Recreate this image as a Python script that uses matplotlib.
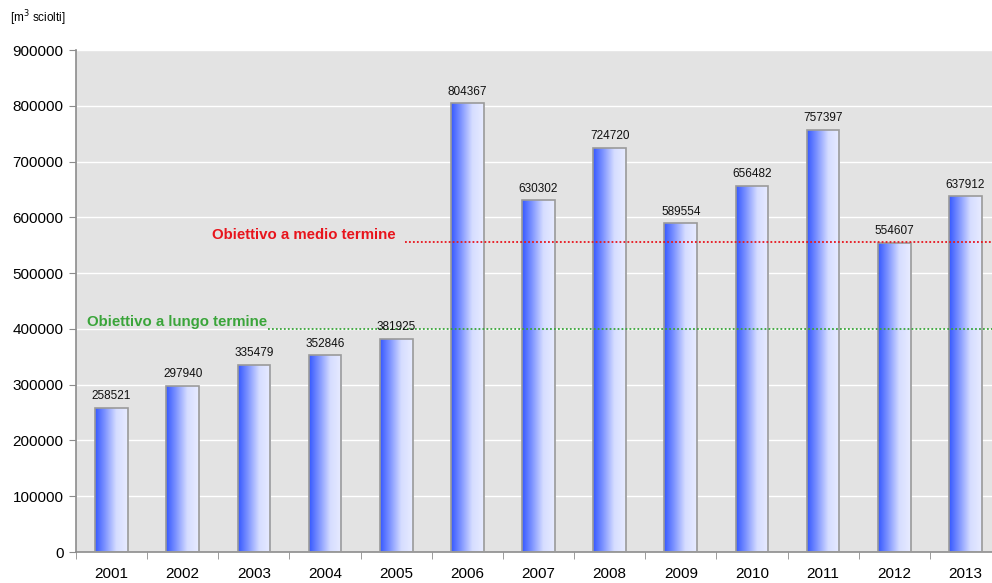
import matplotlib.pyplot as plt
import numpy as np

YEARS = ["2001", "2002", "2003", "2004", "2005", "2006", "2007",
         "2008", "2009", "2010", "2011", "2012", "2013"]
VOLUMES = [258521, 297940, 335479, 352846, 381925, 804367, 630302,
           724720, 589554, 656482, 757397, 554607, 637912]
TARGET_MEDIUM = 555000
TARGET_LONG = 400000
Y_TICKS = list(range(0, 900001, 100000))

plt.rcParams["font.family"] = ["Liberation Sans", "DejaVu Sans"]

fig = plt.figure(figsize=(9.92, 5.83), dpi=100)
# the category axis runs a little past the right edge, as in the original
ax = fig.add_axes([76 / 992, 31 / 583, 925 / 992, 502 / 583])
ax.set_facecolor("#e3e3e3")

x = np.arange(len(YEARS))
bars = ax.bar(x, VOLUMES, 0.46, color="none", edgecolor="#9a9a9a",
              linewidth=1.2, zorder=3)

# horizontal blue-to-white gradient inside each bar
grad = np.linspace(0, 1, 256)
cmap = plt.matplotlib.colors.LinearSegmentedColormap.from_list(
    "bar", [(0.0, "#3558ff"), (0.3, "#7d93ff"), (0.65, "#d6ddff"),
            (1.0, "#e8ecff")])
for b in bars:
    x0, w, h = b.get_x(), b.get_width(), b.get_height()
    im = ax.imshow(grad[np.newaxis, :], cmap=cmap, aspect="auto",
                   extent=(x0, x0 + w, 0, h), zorder=2.5)
    im.set_clip_path(b)

ax.bar_label(bars, labels=[str(v) for v in VOLUMES], padding=4,
             fontsize=8.5, color="#111111", zorder=5)

ax.set_xlim(-0.5, len(YEARS) - 0.5)
ax.set_ylim(0, 900000)
ax.set_yticks(Y_TICKS)
ax.set_yticklabels([str(t) for t in Y_TICKS], fontsize=11)
ax.set_xticks(x)
ax.set_xticklabels(YEARS, fontsize=11)
ax.set_xticks(np.arange(len(YEARS) + 1) - 0.5, minor=True)
ax.tick_params(axis="x", which="major", length=0, pad=11)
ax.tick_params(axis="x", which="minor", length=5, color="#8c8c8c")
ax.tick_params(axis="y", length=5, color="#8c8c8c", pad=4)

ax.yaxis.grid(True, color="white", linewidth=1.0, zorder=1)
ax.set_axisbelow(True)
for side in ("top", "right"):
    ax.spines[side].set_visible(False)
for side in ("left", "bottom"):
    ax.spines[side].set_color("#8c8c8c")
    ax.spines[side].set_linewidth(1.2)

# target lines
ax.plot([4.13, len(YEARS) - 0.5], [TARGET_MEDIUM] * 2, color="#e8141c",
        linestyle=(0, (1, 1.2)), linewidth=1.3, zorder=4)
ax.text(3.99, TARGET_MEDIUM, "Obiettivo a medio termine", color="#e8141c",
        fontsize=10.8, fontweight="bold", ha="right", va="bottom", zorder=6)
ax.plot([2.2, len(YEARS) - 0.5], [TARGET_LONG] * 2, color="#3aa53a",
        linestyle=(0, (1, 1.2)), linewidth=1.3, zorder=4)
ax.text(-0.35, TARGET_LONG, "Obiettivo a lungo termine", color="#3aa53a",
        fontsize=10.8, fontweight="bold", ha="left", va="bottom", zorder=6)

fig.text(10 / 992, 1 - 18 / 583, "[m$^3$ sciolti]", fontsize=8.5,
         va="center", ha="left")

fig.savefig("out.png", dpi=100, facecolor="white")
